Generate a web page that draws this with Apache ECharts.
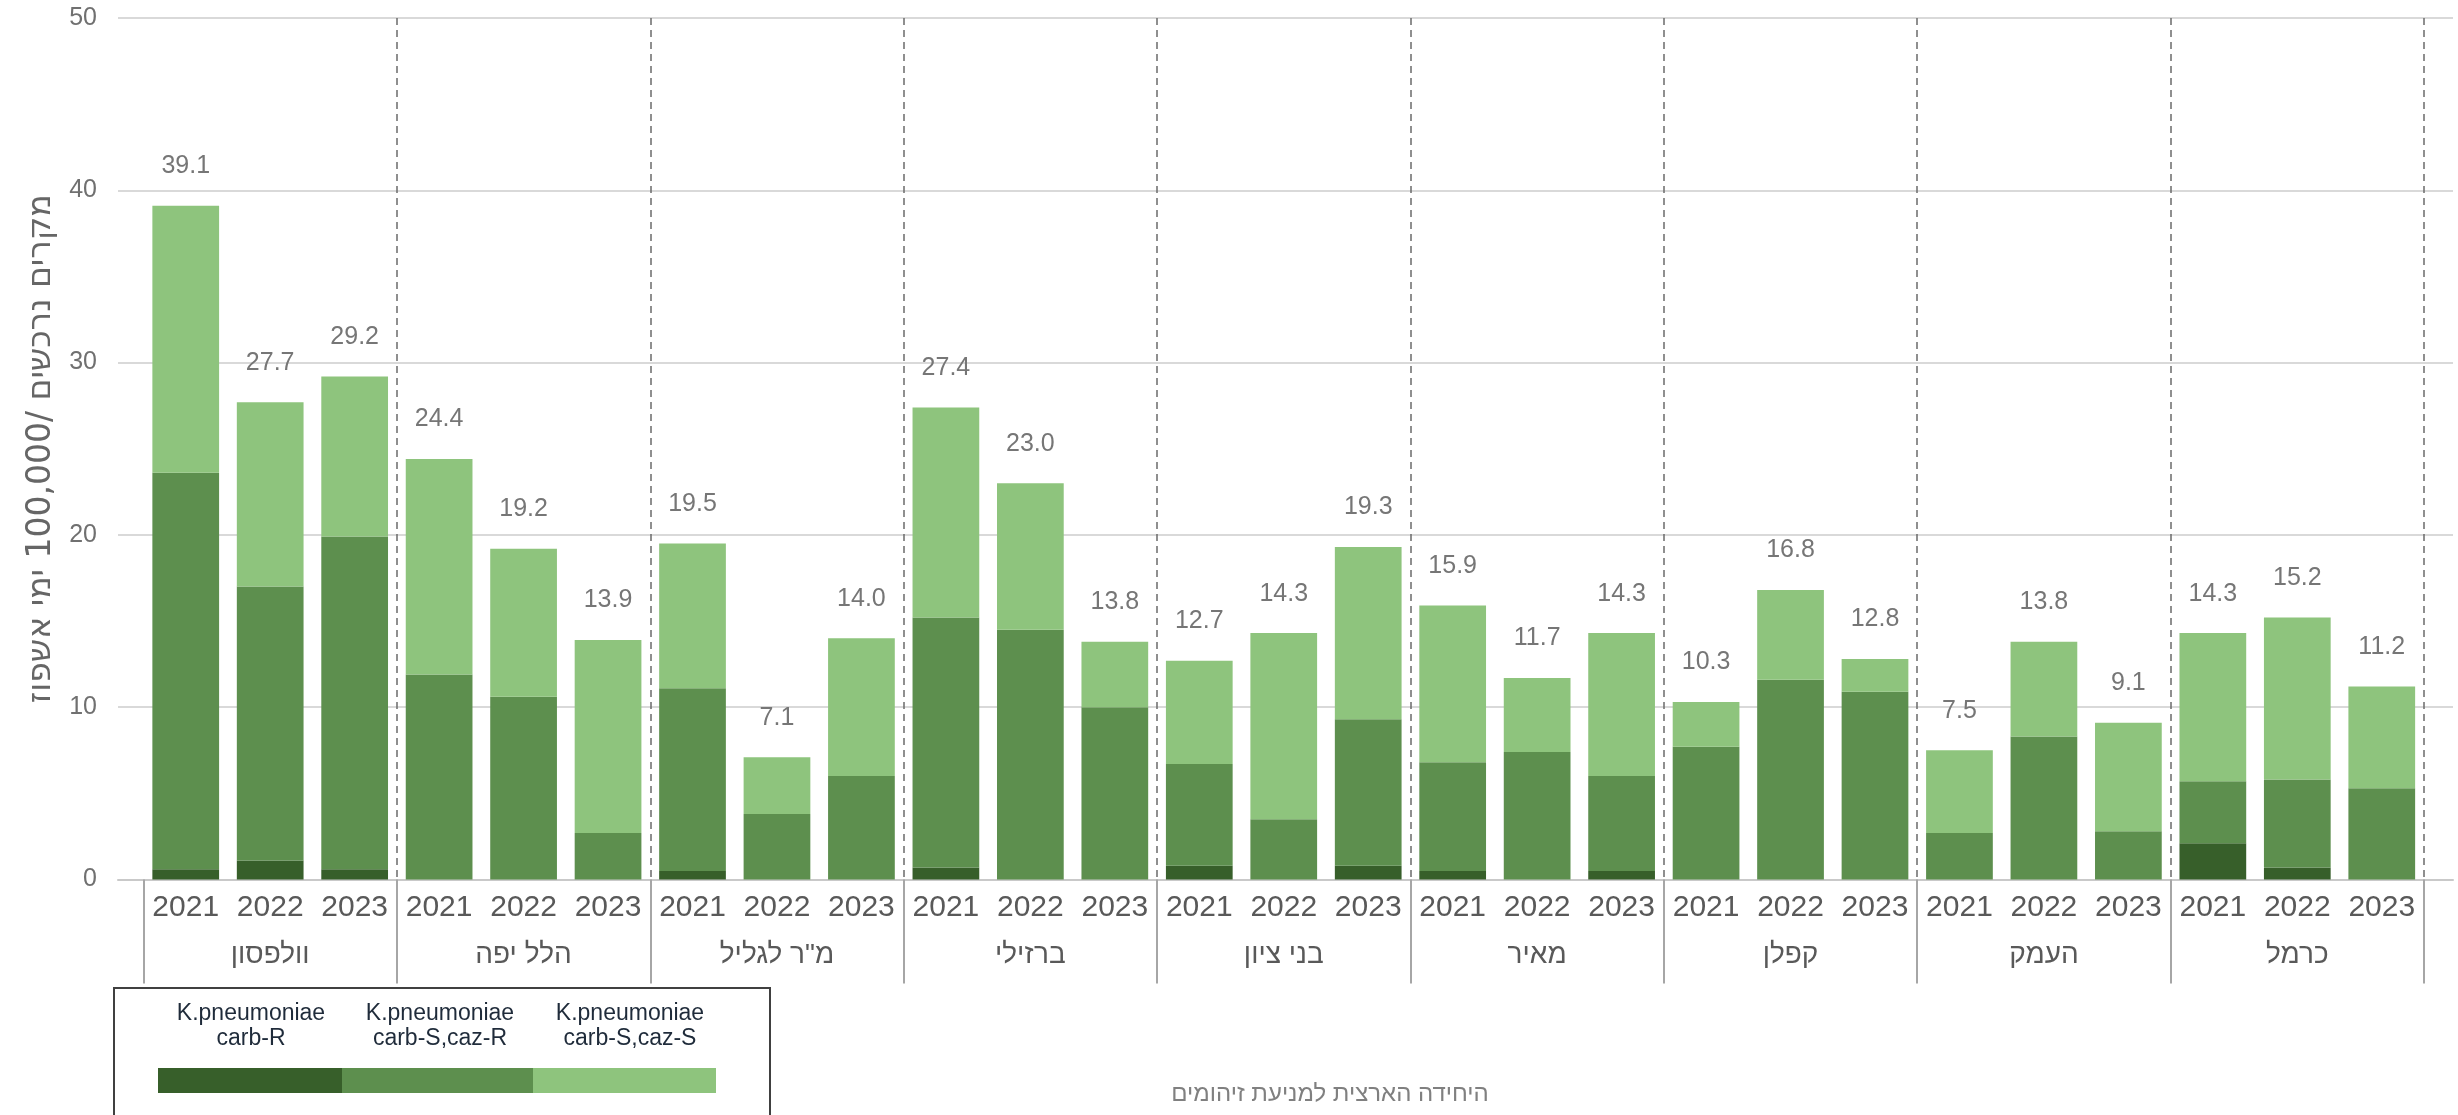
<!DOCTYPE html>
<html>
<head>
<meta charset="utf-8">
<script src="https://cdn.jsdelivr.net/npm/echarts@6/dist/echarts.min.js"></script>
<style>
html,body{margin:0;padding:0;background:#fff;}
#chart{width:2458px;height:1115px;}
</style>
</head>
<body>
<div id="chart" dir="rtl"></div>
<script>
// ---- data ----
const groups = ['וולפסון','הלל יפה','מ"ר לגליל','ברזילי','בני ציון','מאיר','קפלן','העמק','כרמל'];
const years = ['2021','2022','2023'];
const totals = [39.1,27.7,29.2, 24.4,19.2,13.9, 19.5,7.1,14.0, 27.4,23.0,13.8, 12.7,14.3,19.3, 15.9,11.7,14.3, 10.3,16.8,12.8, 7.5,13.8,9.1, 14.3,15.2,11.2];
const carbR = [0.6,1.1,0.6, 0,0,0, 0.5,0,0, 0.7,0,0, 0.8,0,0.8, 0.5,0,0.5, 0,0,0, 0,0,0, 2.1,0.7,0];
const carbSCazR = [23.0,15.9,19.3, 11.9,10.6,2.7, 10.6,3.8,6.0, 14.5,14.5,10.0, 5.9,3.5,8.5, 6.3,7.4,5.5, 7.7,11.6,10.9, 2.7,8.3,2.8, 3.6,5.1,5.3];
const carbSCazS = [15.5,10.7,9.3, 12.5,8.6,11.2, 8.4,3.3,8.0, 12.2,8.5,3.8, 6.0,10.8,10.0, 9.1,4.3,8.3, 2.6,5.2,1.9, 4.8,5.5,6.3, 8.6,9.4,5.9];
const seriesNames = ['K.pneumoniae\ncarb-R','K.pneumoniae\ncarb-S,caz-R','K.pneumoniae\ncarb-S,caz-S'];
const yTicks = {min:0, max:50, interval:10};
const yName = 'מקרים נרכשים /100,000 ימי אשפוז';
const footer = 'היחידה הארצית למניעת זיהומים';

const colors = ['#375f2a','#5d8f4e','#8ec47d'];
const FONT = '"Liberation Sans", Arial, "DejaVu Sans", sans-serif';
const FONT_HEB = '"DejaVu Sans", "Liberation Sans", sans-serif';

// category keys (one per bar), labelled by year
const cats = [];
groups.forEach((g,gi)=>years.forEach(y=>cats.push(gi+'|'+y)));

const chart = echarts.init(document.getElementById('chart'));
const gridTop = 18, gridBottom = 235.5;

const option = {
  backgroundColor:'#fff',
  animation:false,
  textStyle:{fontFamily:FONT},
  grid:[
    {left:143.5, right:2458-2424, top:gridTop, bottom:gridBottom},
    {left:118, right:5, top:gridTop, bottom:gridBottom}
  ],
  xAxis:[
    {type:'category', gridIndex:0, data:cats, position:'bottom',
     axisLine:{show:false}, axisTick:{show:false},
     axisLabel:{interval:0, margin:13, fontSize:30, color:'#595959', fontFamily:FONT,
                formatter:(v)=>v.split('|')[1]},
     splitLine:{show:false}},
    {type:'category', gridIndex:0, data:groups, position:'bottom',
     axisLine:{show:false},
     axisTick:{show:true, interval:0, length:104, lineStyle:{color:'#a6a6a6', width:2}},
     axisLabel:{interval:0, margin:62, fontSize:28, color:'#595959', fontFamily:FONT},
     splitLine:{show:true, interval:(i)=>i>0, lineStyle:{color:'#6b6b6b', width:1.5, type:[7,5]}}},
    {type:'value', gridIndex:1, min:0, max:1, show:true,
     axisLine:{show:true, lineStyle:{color:'#c9c9c9', width:2}},
     axisTick:{show:false}, axisLabel:{show:false}, splitLine:{show:false}}
  ],
  yAxis:[
    {type:'value', gridIndex:0, min:yTicks.min, max:yTicks.max, interval:yTicks.interval, show:false},
    {type:'value', gridIndex:1, min:yTicks.min, max:yTicks.max, interval:yTicks.interval,
     axisLine:{show:false}, axisTick:{show:false},
     axisLabel:{margin:21, fontSize:25, color:'#707070', fontFamily:FONT},
     splitLine:{show:true, lineStyle:{color:'#d9d9d9', width:2}},
     name:yName, nameLocation:'middle', nameGap:55, nameRotate:90,
     nameTextStyle:{fontSize:33, color:'#666666', fontFamily:FONT_HEB}}
  ],
  series:[
    {name:seriesNames[0], type:'bar', stack:'s', xAxisIndex:0, yAxisIndex:0, data:carbR,
     barCategoryGap:'21%', itemStyle:{color:colors[0]}},
    {name:seriesNames[1], type:'bar', stack:'s', xAxisIndex:0, yAxisIndex:0, data:carbSCazR,
     barCategoryGap:'21%', itemStyle:{color:colors[1]}},
    {name:seriesNames[2], type:'bar', stack:'s', xAxisIndex:0, yAxisIndex:0, data:carbSCazS,
     barCategoryGap:'21%', itemStyle:{color:colors[2]},
     label:{show:true, position:'top', distance:27, fontSize:25, color:'#767676', fontFamily:FONT,
            formatter:(p)=>totals[p.dataIndex].toFixed(1)}}
  ],
  graphic:[
    {type:'rect', left:113, top:987, shape:{width:656, height:200},
     style:{fill:'#fff', stroke:'#404040', lineWidth:2}, z:10},
    {type:'rect', left:158, top:1068, shape:{width:184, height:25}, style:{fill:colors[0]}, z:11},
    {type:'rect', left:342, top:1068, shape:{width:191, height:25}, style:{fill:colors[1]}, z:11},
    {type:'rect', left:533, top:1068, shape:{width:183, height:25}, style:{fill:colors[2]}, z:11},
    {type:'text', x:251, y:1026, z:11, style:{text:seriesNames[0], font:'23px '+FONT, fill:'#1f2b3a', align:'center', verticalAlign:'middle', lineHeight:25}},
    {type:'text', x:440, y:1026, z:11, style:{text:seriesNames[1], font:'23px '+FONT, fill:'#1f2b3a', align:'center', verticalAlign:'middle', lineHeight:25}},
    {type:'text', x:630, y:1026, z:11, style:{text:seriesNames[2], font:'23px '+FONT, fill:'#1f2b3a', align:'center', verticalAlign:'middle', lineHeight:25}},
    {type:'text', x:1330, y:1094, z:11, style:{text:footer, font:'24px '+FONT, fill:'#808080', align:'center', verticalAlign:'middle'}}
  ]
};
chart.setOption(option);
</script>
</body>
</html>
